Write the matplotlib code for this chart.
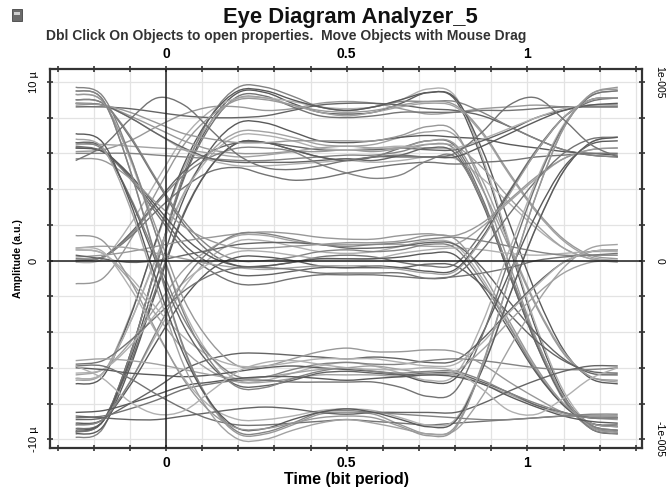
# eye diagram recreation (OptiSystem style "Eye Diagram Analyzer_5")
import matplotlib.pyplot as plt
from matplotlib.ticker import MultipleLocator, FixedLocator
from matplotlib.patches import Rectangle, PathPatch
from matplotlib.path import Path

plt.rcParams['font.family'] = ['Liberation Sans', 'DejaVu Sans']

# sample times of every trace (bit period)
time_bits = [-0.25, -0.175, -0.1, -0.025, 0.05, 0.125, 0.2, 0.275, 0.35, 0.425, 0.5,
             0.575, 0.65, 0.725, 0.8, 0.875, 0.95, 1.025, 1.1, 1.175, 1.25]

# trace amplitudes, in micro units (1e-6)
top_rail = [
    [-9.6, -9.0, -5.3, -0.1, 4.7, 7.8, 9.4, 9.4, 8.8, 8.3, 8.2, 8.3, 8.8, 9.4, 9.0, 5.6, 0.8, -3.9, -7.5, -9.4, -9.7],
    [6.1, 6.2, 6.7, 7.5, 8.2, 8.6, 8.6, 8.4, 8.5, 8.8, 8.9, 8.8, 8.5, 8.2, 8.3, 8.5, 8.6, 8.7, 8.6, 8.6, 8.6],
    [-9.6, -9.0, -5.3, -0.2, 4.6, 7.6, 9.2, 9.2, 8.6, 8.1, 8.0, 8.1, 8.3, 8.3, 8.3, 8.4, 8.4, 8.5, 8.6, 8.6, 8.6],
    [-0.1, 0.1, 2.0, 4.5, 6.9, 8.4, 9.1, 9.1, 8.9, 8.6, 8.5, 8.6, 9.0, 9.6, 9.2, 5.8, 1.0, -3.7, -7.3, -9.2, -9.5],
    [8.6, 8.6, 8.5, 8.3, 8.1, 8.0, 8.0, 8.1, 8.4, 8.7, 8.8, 8.8, 8.7, 8.5, 8.4, 8.1, 7.5, 6.8, 6.2, 5.9, 5.8],
    [-6.7, -6.3, -3.1, 1.2, 5.2, 7.8, 9.1, 9.1, 8.7, 8.3, 8.1, 8.3, 8.6, 8.8, 8.6, 7.1, 4.8, 2.7, 1.1, 0.2, 0.0],
    [-9.9, -9.4, -5.4, -0.1, 4.9, 8.1, 9.7, 9.7, 9.2, 8.6, 8.4, 8.6, 8.9, 8.9, 8.9, 8.3, 7.5, 6.8, 6.2, 5.9, 5.8],
    [-6.9, -6.5, -3.2, 1.3, 5.4, 8.1, 9.5, 9.5, 9.0, 8.6, 8.4, 8.6, 9.0, 9.4, 9.1, 6.2, 2.1, -1.9, -5.0, -6.6, -6.9],
    [-1.3, -1.0, 1.1, 3.9, 6.5, 8.1, 9.0, 9.0, 8.7, 8.4, 8.3, 8.4, 8.7, 8.9, 8.7, 7.2, 4.9, 2.8, 1.2, 0.3, 0.1],
]
upper_band = [
    [-9.4, -9.0, -5.8, -1.4, 2.7, 5.3, 6.6, 6.6, 6.2, 5.8, 5.6, 5.8, 6.3, 6.7, 6.4, 3.5, -0.6, -4.5, -7.6, -9.2, -9.5],
    [8.8, 8.7, 8.0, 7.1, 6.2, 5.6, 5.3, 5.3, 5.4, 5.5, 5.6, 5.5, 5.6, 5.8, 5.7, 4.6, 3.2, 1.8, 0.7, 0.1, 0.0],
    [0.0, 0.2, 1.5, 3.3, 5.0, 6.1, 6.6, 6.6, 6.4, 6.2, 6.2, 6.2, 6.3, 6.2, 6.2, 6.7, 7.3, 8.0, 8.4, 8.7, 8.7],
    [-6.6, -6.3, -3.5, 0.3, 3.8, 6.1, 7.2, 7.2, 6.9, 6.5, 6.4, 6.5, 6.9, 7.2, 7.0, 4.5, 0.9, -2.5, -5.1, -6.5, -6.8],
    [6.0, 6.0, 6.0, 5.9, 5.8, 5.7, 5.6, 5.6, 5.7, 5.8, 5.9, 5.9, 6.1, 6.5, 6.2, 3.3, -0.8, -4.7, -7.8, -9.4, -9.7],
    [-9.5, -9.0, -5.6, -0.9, 3.5, 6.3, 7.7, 7.7, 7.2, 6.7, 6.6, 6.7, 6.9, 7.0, 6.9, 6.8, 6.5, 6.3, 6.1, 6.0, 5.9],
    [8.7, 8.7, 8.1, 7.4, 6.7, 6.2, 6.0, 6.0, 6.1, 6.1, 6.2, 6.1, 6.3, 6.7, 6.5, 4.0, 0.7, -2.6, -5.2, -6.5, -6.7],
    [0.1, 0.2, 1.3, 2.8, 4.1, 5.0, 5.2, 4.8, 4.5, 4.6, 4.9, 5.2, 5.4, 5.5, 5.4, 5.5, 5.6, 5.8, 5.9, 6.0, 6.0],
    [-6.6, -6.3, -3.5, 0.2, 3.7, 5.9, 7.0, 7.0, 6.7, 6.3, 6.2, 6.3, 6.4, 6.3, 6.3, 6.8, 7.4, 8.0, 8.5, 8.7, 8.7],
    [8.8, 8.7, 8.0, 7.1, 6.3, 5.7, 5.5, 5.5, 5.5, 5.6, 5.7, 5.6, 5.9, 6.3, 6.0, 3.2, -0.8, -4.7, -7.7, -9.3, -9.6],
    [6.5, 6.5, 6.4, 6.3, 6.2, 6.0, 5.8, 5.9, 6.1, 6.3, 6.4, 6.3, 6.3, 6.5, 6.4, 5.2, 3.5, 2.0, 0.7, 0.1, -0.1],
    [0.0, 0.2, 1.4, 3.2, 4.8, 5.8, 6.3, 6.3, 6.1, 5.4, 4.9, 4.6, 4.8, 5.6, 5.8, 3.3, -0.6, -4.5, -7.6, -9.2, -9.5],
    [-9.7, -9.3, -6.0, -1.6, 2.6, 5.3, 6.6, 6.6, 6.2, 5.8, 5.6, 5.8, 5.8, 5.8, 5.8, 6.4, 7.1, 7.8, 8.4, 8.7, 8.8],
    [8.8, 8.7, 8.3, 7.7, 7.1, 6.8, 6.6, 6.6, 6.7, 6.7, 6.7, 6.7, 7.0, 7.5, 7.2, 4.1, -0.2, -4.4, -7.6, -9.3, -9.6],
]
zero_band = [
    [9.0, 8.8, 6.9, 4.4, 2.0, 0.4, -0.3, -0.3, -0.1, 0.2, 0.3, 0.2, -0.1, -0.3, -0.2, 1.6, 3.9, 6.2, 8.0, 8.9, 9.1],
    [-9.2, -8.9, -6.8, -4.1, -1.5, 0.2, 1.1, 1.1, 0.8, 0.5, 0.4, 0.5, 0.8, 1.1, 0.9, -1.0, -3.6, -6.1, -8.1, -9.1, -9.3],
    [6.3, 6.1, 4.7, 2.8, 0.9, -0.2, -0.8, -0.8, -0.6, -0.4, -0.4, -0.4, -0.4, -0.2, -0.3, -1.4, -3.0, -4.5, -5.6, -6.2, -6.3],
    [-6.4, -6.1, -4.6, -2.5, -0.5, 0.7, 1.4, 1.4, 1.1, 0.9, 0.9, 0.9, 0.9, 0.8, 0.9, 1.9, 3.3, 4.6, 5.7, 6.2, 6.3],
    [9.0, 8.8, 7.0, 4.5, 2.2, 0.7, 0.0, 0.0, 0.2, 0.5, 0.6, 0.5, 0.6, 0.9, 0.7, -1.2, -3.7, -6.2, -8.1, -9.1, -9.3],
    [-9.1, -8.9, -7.0, -4.5, -2.1, -0.5, 0.2, 0.2, 0.0, -0.3, -0.4, -0.3, -0.4, -0.6, -0.5, 1.3, 3.8, 6.1, 8.0, 9.0, 9.1],
    [0.2, 0.3, 0.5, 0.8, 1.1, 1.3, 1.5, 1.6, 1.5, 1.3, 1.2, 1.2, 1.4, 1.5, 1.4, 2.1, 3.4, 4.7, 5.7, 6.2, 6.3],
    [6.4, 6.1, 4.6, 2.6, 0.6, -0.6, -1.3, -1.3, -1.0, -0.8, -0.8, -0.8, -0.9, -1.0, -0.9, -0.7, -0.4, 0.0, 0.2, 0.3, 0.4],
    [-6.3, -6.1, -4.8, -2.9, -1.2, -0.1, 0.5, 0.5, 0.3, 0.1, 0.1, 0.1, 0.4, 0.6, 0.7, 0.6, 0.4, 0.3, 0.4, 0.5, 0.5],
    [0.3, 0.1, -0.1, 0.0, 0.3, 0.6, 0.9, 1.0, 1.0, 0.9, 0.7, 0.7, 0.8, 1.0, 0.9, -0.4, -2.3, -4.1, -5.5, -6.3, -6.4],
    [0.7, 0.8, 0.7, 0.4, 0.1, -0.2, -0.4, -0.5, -0.4, -0.3, -0.3, -0.3, -0.5, -0.7, -0.6, 1.2, 3.7, 6.1, 8.0, 9.0, 9.1],
    [-9.2, -8.9, -6.8, -3.9, -1.1, 0.6, 1.5, 1.5, 1.2, 0.9, 0.8, 0.9, 1.0, 1.2, 1.3, 1.1, 0.8, 0.5, 0.3, 0.3, 0.3],
    [6.3, 6.1, 4.8, 3.0, 1.3, 0.2, -0.3, -0.3, -0.1, 0.1, 0.1, 0.1, 0.2, 0.4, 0.3, -1.5, -3.9, -6.3, -8.1, -9.1, -9.2],
    [5.7, 5.6, 4.6, 3.2, 1.9, 1.1, 0.7, 0.7, 0.8, 0.9, 1.0, 1.0, 1.1, 1.4, 1.2, -0.7, -3.4, -6.0, -8.0, -9.1, -9.3],
    [-5.8, -5.6, -4.5, -3.1, -1.7, -0.8, -0.4, -0.4, -0.5, -0.7, -0.7, -0.7, -0.7, -1.0, -0.8, 0.6, 2.6, 4.5, 6.0, 6.8, 6.9],
]
lower_band = [
    [9.3, 8.9, 5.7, 1.3, -2.8, -5.4, -6.7, -6.7, -6.3, -5.9, -5.7, -5.9, -6.3, -6.7, -6.4, -3.5, 0.6, 4.5, 7.6, 9.2, 9.5],
    [-8.9, -8.8, -8.0, -7.1, -6.1, -5.5, -5.2, -5.2, -5.3, -5.4, -5.5, -5.4, -5.5, -5.7, -5.6, -4.4, -2.8, -1.3, -0.1, 0.5, 0.6],
    [0.6, 0.4, -1.1, -3.1, -5.0, -6.2, -6.8, -6.8, -6.6, -6.4, -6.4, -6.4, -6.5, -6.4, -6.4, -6.9, -7.5, -8.1, -8.6, -8.8, -8.8],
    [6.6, 6.2, 3.6, 0.1, -3.3, -5.4, -6.5, -6.5, -6.1, -5.8, -5.7, -5.8, -5.8, -5.6, -5.5, -5.6, -5.8, -6.0, -6.1, -6.1, -6.0],
    [-6.0, -6.1, -6.3, -6.4, -6.5, -6.4, -6.2, -6.0, -5.9, -6.0, -6.1, -6.2, -6.4, -6.8, -6.6, -4.1, -0.7, 2.6, 5.2, 6.5, 6.7],
    [9.3, 8.9, 5.8, 1.7, -2.2, -4.6, -5.9, -5.9, -5.5, -5.1, -4.9, -5.1, -5.1, -5.0, -5.1, -5.8, -6.8, -7.7, -8.5, -8.8, -8.9],
    [-8.8, -8.7, -8.3, -7.8, -7.2, -6.9, -6.7, -6.7, -6.8, -6.8, -6.8, -6.8, -7.1, -7.6, -7.3, -4.2, 0.1, 4.3, 7.5, 9.2, 9.5],
    [0.6, 0.4, -0.9, -2.7, -4.3, -5.4, -5.9, -5.9, -5.7, -5.5, -5.5, -5.5, -5.7, -5.9, -5.8, -4.6, -2.9, -1.4, -0.1, 0.5, 0.6],
    [6.6, 6.3, 3.5, -0.2, -3.7, -5.9, -7.0, -7.0, -6.7, -6.3, -6.2, -6.3, -6.4, -6.3, -6.3, -6.8, -7.4, -8.1, -8.5, -8.8, -8.8],
    [-5.6, -5.5, -5.6, -5.8, -6.1, -6.4, -6.6, -6.5, -6.3, -6.1, -6.0, -5.9, -6.1, -6.3, -6.2, -5.0, -3.4, -1.9, -0.7, -0.1, 0.0],
    [9.7, 9.2, 5.9, 1.3, -3.0, -5.7, -7.1, -7.1, -6.6, -6.2, -6.0, -6.2, -6.3, -6.2, -6.2, -6.7, -7.4, -8.0, -8.5, -8.8, -8.8],
    [-8.5, -8.4, -8.0, -7.5, -7.0, -6.8, -6.6, -6.5, -6.5, -6.6, -6.7, -6.6, -6.5, -6.4, -6.5, -6.9, -7.6, -8.2, -8.7, -9.0, -9.1],
]
bottom_rail = [
    [9.5, 9.0, 5.1, -0.1, -5.0, -8.1, -9.7, -9.7, -9.2, -8.6, -8.5, -8.6, -9.2, -9.7, -9.3, -5.8, -1.0, 3.7, 7.4, 9.3, 9.6],
    [-5.9, -5.9, -6.6, -7.5, -8.3, -8.9, -9.2, -9.2, -9.1, -9.0, -8.9, -9.0, -9.1, -9.2, -9.1, -9.0, -8.9, -8.8, -8.7, -8.7, -8.7],
    [0.7, 0.5, -1.5, -4.1, -6.6, -8.2, -8.9, -8.9, -8.7, -8.4, -8.3, -8.4, -8.8, -9.2, -8.9, -6.0, -2.0, 1.9, 5.0, 6.6, 6.9],
    [-8.7, -8.8, -8.9, -8.9, -8.7, -8.5, -8.3, -8.2, -8.3, -8.5, -8.6, -8.5, -8.5, -8.5, -8.5, -8.0, -7.3, -6.7, -6.2, -5.9, -5.9],
    [6.8, 6.3, 3.0, -1.6, -5.9, -8.6, -10.0, -10.0, -9.5, -9.1, -8.9, -9.1, -9.4, -9.7, -9.5, -7.6, -4.9, -2.4, -0.4, 0.7, 0.9],
    [9.5, 9.0, 5.1, 0.0, -4.9, -8.0, -9.6, -9.6, -9.1, -8.5, -8.4, -8.5, -8.6, -8.7, -8.8, -8.9, -8.9, -8.8, -8.7, -8.6, -8.6],
    [7.1, 6.6, 3.3, -1.2, -5.3, -8.0, -9.4, -9.4, -8.9, -8.5, -8.3, -8.5, -8.9, -9.3, -9.0, -6.1, -2.0, 1.9, 5.0, 6.6, 6.9],
    [1.4, 1.1, -1.1, -4.0, -6.7, -8.5, -9.4, -9.4, -9.1, -8.8, -8.7, -8.8, -9.3, -9.8, -9.4, -5.9, -1.0, 3.7, 7.4, 9.3, 9.7],
]
crossing_arcs = [
    [5.6, 6.4, 7.9, 9.1, 8.7, 7.3, 5.9, 5.2, 5.1, 5.3, 5.6, 5.8, 5.9, 5.8, 6.0, 7.2, 8.7, 9.1, 7.9, 6.5, 5.8],
    [-5.9, -6.6, -7.9, -8.6, -8.4, -7.3, -6.2, -5.7, -5.6, -5.8, -6.0, -6.1, -6.1, -6.0, -6.2, -7.2, -8.4, -8.6, -7.7, -6.6, -6.0],
]

x_ticks = [0, 0.5, 1]
x_tick_labels = ['0', '0.5', '1']
y_ticks = [-10, 0, 10]
y_left_labels = ['-10 \u00b5', '0', '10 \u00b5']
y_right_labels = ['-1e-005', '0', '1e-005']

grays = ['#5a5a5a', '#989898', '#737373', '#b0b0b0', '#646464', '#a2a2a2', '#838383']


def trace_path(xs, ys):
    # scope-like smooth curve through the sampled points (cubic bezier pieces)
    pts = list(zip(xs, ys))
    n = len(pts)
    verts, codes = [pts[0]], [Path.MOVETO]
    for i in range(n - 1):
        p0, p1 = pts[max(i - 1, 0)], pts[i]
        p2, p3 = pts[i + 1], pts[min(i + 2, n - 1)]
        c1 = (p1[0] + (p2[0] - p0[0]) / 6, p1[1] + (p2[1] - p0[1]) / 6)
        c2 = (p2[0] - (p3[0] - p1[0]) / 6, p2[1] - (p3[1] - p1[1]) / 6)
        verts += [c1, c2, p2]
        codes += [Path.CURVE4] * 3
    return Path(verts, codes)


W, H = 670, 491
fig = plt.figure(figsize=(W / 100, H / 100), dpi=100)
ax = fig.add_axes([50 / W, 1 - 448 / H, 592 / W, 379 / H])

all_traces = top_rail + upper_band + zero_band + lower_band + bottom_rail + crossing_arcs
for i, tr in enumerate(all_traces):
    ax.add_patch(PathPatch(trace_path(time_bits, tr), fill=False,
                           edgecolor=grays[i % len(grays)], lw=1.0, zorder=2))

ax.axvline(0, color='#1e1e1e', lw=1.1, zorder=3)
ax.axhline(0, color='#1e1e1e', lw=1.1, zorder=3)

ax.set_xlim(-0.321, 1.317)
ax.set_ylim(-10.49, 10.72)

ax.xaxis.set_major_locator(FixedLocator(x_ticks))
ax.xaxis.set_minor_locator(MultipleLocator(0.1))
ax.yaxis.set_major_locator(FixedLocator(y_ticks))
ax.yaxis.set_minor_locator(MultipleLocator(2))
ax.set_xticklabels(x_tick_labels)
ax.set_yticklabels(y_left_labels, rotation=90, va='center')
ax.grid(True, which='both', color='#e3e3e3', lw=0.9)
ax.set_axisbelow(True)

ax.tick_params(which='both', direction='inout', length=4, width=1.2, color='#333333',
               top=True, right=True, labeltop=True)
ax.tick_params(axis='x', labelsize=10, pad=4)
ax.tick_params(axis='y', labelsize=8, pad=6)
for lab in ax.get_xticklabels():
    lab.set_fontweight('bold')

sec = ax.secondary_yaxis('right')
sec.set_yticks(y_ticks)
sec.set_yticklabels(y_right_labels, rotation=270, va='center', fontsize=7.5)
sec.tick_params(length=0, pad=9)
sec.spines['right'].set_visible(False)

for s in ax.spines.values():
    s.set_color('#333333')
    s.set_linewidth(1.6)

ax.set_xlabel('Time (bit period)', fontsize=11.5, fontweight='bold', labelpad=1)
ax.set_ylabel('Amplitude (a.u.)', fontsize=7.5, fontweight='bold', labelpad=4)

fig.text(350 / W, 1 - 18 / H, 'Eye Diagram Analyzer_5', ha='center', va='center',
         fontsize=15.8, fontweight='bold', color='#111111')
fig.text(286 / W, 1 - 36 / H,
         'Dbl Click On Objects to open properties.  Move Objects with Mouse Drag',
         ha='center', va='center', fontsize=10, fontweight='bold', color='#333333')

# small icon in the corner
fig.patches.append(Rectangle((12 / W, 1 - 21 / H), 10 / W, 12 / H, transform=fig.transFigure,
                             facecolor='#6b6b6b', edgecolor='#444444', lw=0.6))
fig.patches.append(Rectangle((14 / W, 1 - 15 / H), 6 / W, 3 / H, transform=fig.transFigure,
                             facecolor='#d0d0d0', edgecolor='none'))

fig.savefig('out.png', dpi=100)
